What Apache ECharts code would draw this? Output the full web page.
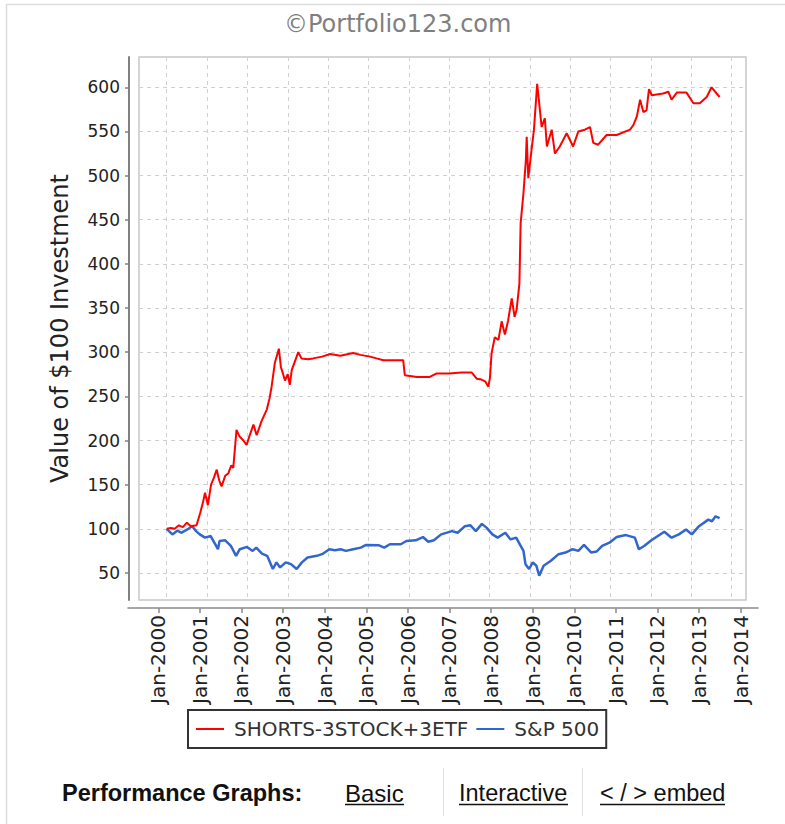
<!DOCTYPE html>
<html>
<head>
<meta charset="utf-8">
<script src="https://cdn.jsdelivr.net/npm/echarts@6/dist/echarts.min.js"></script>
<style>
  html, body { margin: 0; padding: 0; background: #ffffff; }
  #chart { width: 785px; height: 824px; }
</style>
</head>
<body>
<div id="chart"></div>
<script>
// ---- Data (fractional year, value of $100 investment) ----
const seriesNames = ['SHORTS-3STOCK+3ETF', 'S&P 500'];

const redYears = [2000.00,2000.10,2000.20,2000.30,2000.40,2000.50,2000.60,2000.74,2000.83,2000.90,2000.95,2001.02,2001.10,2001.17,2001.24,2001.30,2001.36,2001.45,2001.53,2001.60,2001.65,2001.73,2001.80,2001.90,2001.98,2002.05,2002.15,2002.23,2002.35,2002.48,2002.55,2002.60,2002.68,2002.78,2002.83,2002.88,2002.93,2003.00,2003.05,2003.10,2003.18,2003.26,2003.34,2003.50,2003.63,2003.85,2004.05,2004.30,2004.62,2004.80,2005.04,2005.20,2005.37,2005.60,2005.86,2005.90,2006.20,2006.52,2006.69,2007.00,2007.30,2007.56,2007.68,2007.80,2007.89,2007.97,2008.01,2008.05,2008.13,2008.22,2008.30,2008.38,2008.46,2008.55,2008.62,2008.67,2008.74,2008.77,2008.84,2008.90,2008.92,2008.96,2009.04,2009.10,2009.18,2009.23,2009.29,2009.37,2009.42,2009.54,2009.62,2009.74,2009.91,2010.07,2010.20,2010.36,2010.49,2010.57,2010.69,2010.90,2011.15,2011.48,2011.56,2011.65,2011.73,2011.81,2011.89,2011.95,2012.02,2012.30,2012.43,2012.51,2012.64,2012.88,2013.05,2013.21,2013.38,2013.50,2013.70];
const redValues = [100,101,100,104,102,107,103,104,118,130,141,127,150,158,167,155,148,160,163,172,169,212,205,200,195,205,218,206,222,235,248,261,288,304,283,276,268,275,263,280,290,300,293,292,293,295,298,296,299,297,295,293,291,291,291,274,272,272,276,276,277,277,270,269,267,261,271,299,317,314,335,320,336,361,340,348,378,446,480,518,544,497,529,552,604,582,555,565,533,552,525,533,548,533,550,552,555,537,535,546,546,552,557,567,586,572,574,598,591,593,595,586,594,594,582,582,589,600,589];

const blueYears = [2000.00,2000.14,2000.27,2000.36,2000.50,2000.63,2000.73,2000.82,2000.95,2001.09,2001.18,2001.27,2001.31,2001.45,2001.59,2001.72,2001.81,2001.99,2002.13,2002.22,2002.36,2002.49,2002.58,2002.63,2002.72,2002.81,2002.95,2003.08,2003.22,2003.35,2003.49,2003.72,2003.85,2004.03,2004.17,2004.31,2004.44,2004.62,2004.81,2004.94,2005.26,2005.39,2005.53,2005.80,2005.94,2006.17,2006.35,2006.48,2006.62,2006.80,2007.07,2007.21,2007.39,2007.52,2007.66,2007.81,2007.93,2008.07,2008.20,2008.39,2008.52,2008.66,2008.75,2008.84,2008.89,2008.98,2009.07,2009.16,2009.23,2009.34,2009.52,2009.71,2009.88,2010.06,2010.20,2010.34,2010.52,2010.65,2010.79,2010.97,2011.15,2011.38,2011.60,2011.70,2011.83,2012.01,2012.33,2012.51,2012.69,2012.87,2013.01,2013.19,2013.42,2013.51,2013.60,2013.70];
const blueValues = [100,93.7,98,95.5,99,103,97.4,93.7,90,91.8,84.3,76.9,86.2,87,80.6,69.4,76.9,79.5,75,78.7,72,69.4,60,54.5,62,56.3,62,60,54.5,62,67.5,69.4,71.3,76.9,75.7,76.9,75,76.9,78.7,81.7,81.3,78.7,82.5,82.5,86.2,87,90.7,85.4,87,93.7,97.4,95.5,103,104.1,97.4,105.6,101.1,93.7,90,95.5,88,90,82.5,75,60,54.5,62,58.2,47,58.2,63.8,71.3,73.1,76.9,75,81.7,73.1,74.3,80.6,84.3,90.7,92.9,90,76.9,80.6,87,96.6,90,93.7,99.3,93.7,103,110.4,108.6,114.2,112];

// ---- Axis ticks ----
const xTickYears = [2000,2001,2002,2003,2004,2005,2006,2007,2008,2009,2010,2011,2012,2013,2014];
const xTickLabels = ['Jan-2000','Jan-2001','Jan-2002','Jan-2003','Jan-2004','Jan-2005','Jan-2006','Jan-2007','Jan-2008','Jan-2009','Jan-2010','Jan-2011','Jan-2012','Jan-2013','Jan-2014'];
const yTickValues = [50,100,150,200,250,300,350,400,450,500,550,600];

const titleText = '\u00A9Portfolio123.com';
const yAxisTitle = 'Value of $100 Investment';
const footerLabel = 'Performance Graphs:';
const footerLinks = ['Basic', 'Interactive', '< / > embed'];

const zip = (xs, ys) => xs.map((x, i) => [x, ys[i]]);
const FONT = '"DejaVu Sans", sans-serif';
const FOOT = '"Liberation Sans", Arial, sans-serif';

const chart = echarts.init(document.getElementById('chart'), null, { renderer: 'svg' });

const option = {
  animation: false,
  backgroundColor: '#ffffff',
  title: {
    text: titleText,
    left: 279, top: 7,
    textStyle: { color: '#7f7f7f', fontSize: 24, fontWeight: 'normal', fontFamily: FONT }
  },
  legend: {
    data: seriesNames,
    left: 188, top: 710,
    orient: 'horizontal',
    padding: [9, 7, 9, 8],
    itemGap: 8,
    itemWidth: 28, itemHeight: 2,
    icon: 'rect',
    borderColor: '#333333', borderWidth: 2, borderRadius: 0,
    textStyle: { color: '#333333', fontSize: 20, fontFamily: FONT, padding: [0, 0, 0, 5] }
  },
  grid: [
    { left: 139, top: 57, width: 607, height: 543, show: true, borderColor: '#c8c8c8', borderWidth: 1.5, backgroundColor: '#ffffff', containLabel: false, outerBoundsMode: 'none' },
    { left: 128, top: 600, width: 630, height: 8, show: false, containLabel: false, outerBoundsMode: 'none' }
  ],
  xAxis: [
    {
      type: 'value', gridIndex: 0,
      min: 1999.314, max: 2014.354,
      axisLine: { show: false },
      axisTick: { show: false, customValues: xTickYears },
      axisLabel: { show: false, customValues: xTickYears },
      splitLine: { show: true, lineStyle: { color: '#d0d0d0', type: [4, 4], width: 1 } }
    },
    {
      type: 'value', gridIndex: 1, position: 'bottom',
      min: 1999.272, max: 2014.416,
      axisLine: { show: true, lineStyle: { color: '#8a8a8a', width: 1.5 } },
      axisTick: { show: true, length: 5, inside: false, customValues: xTickYears, lineStyle: { color: '#8a8a8a', width: 1.5 } },
      axisLabel: {
        show: true, rotate: 90, margin: 7,
        customValues: xTickYears,
        color: '#222222', fontSize: 20, fontFamily: FONT,
        formatter: v => xTickLabels[xTickYears.indexOf(Math.round(v))]
      },
      splitLine: { show: false }
    }
  ],
  yAxis: [
    {
      type: 'value', gridIndex: 0,
      min: 19.4, max: 634.3,
      offset: 10,
      name: yAxisTitle, nameLocation: 'middle', nameGap: 57,
      nameTextStyle: { color: '#222222', fontSize: 24, fontFamily: FONT },
      axisLine: { show: true, lineStyle: { color: '#808080', width: 2 } },
      axisTick: { show: true, length: 4, inside: false, customValues: yTickValues, lineStyle: { color: '#808080', width: 1.5 } },
      axisLabel: { show: true, customValues: yTickValues, margin: 9, color: '#222222', fontSize: 17, fontFamily: FONT },
      splitLine: { show: true, lineStyle: { color: '#d0d0d0', type: [4, 4], width: 1 } }
    },
    { type: 'value', gridIndex: 1, show: false, min: 0, max: 1 }
  ],
  series: [
    {
      name: seriesNames[0], type: 'line', xAxisIndex: 0, yAxisIndex: 0,
      data: zip(redYears, redValues), symbol: 'none', z: 3,
      color: '#ff0000',
      lineStyle: { color: '#ff0000', width: 2 }
    },
    {
      name: seriesNames[1], type: 'line', xAxisIndex: 0, yAxisIndex: 0,
      data: zip(blueYears, blueValues), symbol: 'none', z: 2,
      color: '#3366cc',
      lineStyle: { color: '#3366cc', width: 2.5 }
    }
  ],
  graphic: [
    { type: 'line', shape: { x1: 6.5, y1: 4, x2: 6.5, y2: 824 }, style: { stroke: '#dcdcdc', lineWidth: 1.5 }, silent: true },
    { type: 'line', shape: { x1: 6.5, y1: 4.5, x2: 785, y2: 4.5 }, style: { stroke: '#dcdcdc', lineWidth: 1.5 }, silent: true },
    { type: 'text', style: { text: footerLabel, x: 62, y: 793, verticalAlign: 'middle', fill: '#111111', font: 'bold 23.5px ' + FOOT }, silent: true },
    { type: 'text', style: { text: footerLinks[0], x: 345, y: 793, verticalAlign: 'middle', fill: '#111111', font: '24px ' + FOOT }, silent: true },
    { type: 'line', shape: { x1: 345, y1: 804.5, x2: 404, y2: 804.5 }, style: { stroke: '#111111', lineWidth: 1.5 }, silent: true },
    { type: 'line', shape: { x1: 443.5, y1: 768, x2: 443.5, y2: 816 }, style: { stroke: '#e0e0e0', lineWidth: 1 }, silent: true },
    { type: 'text', style: { text: footerLinks[1], x: 459, y: 793, verticalAlign: 'middle', fill: '#111111', font: '23.5px ' + FOOT }, silent: true },
    { type: 'line', shape: { x1: 459, y1: 804.5, x2: 568, y2: 804.5 }, style: { stroke: '#111111', lineWidth: 1.5 }, silent: true },
    { type: 'line', shape: { x1: 582.5, y1: 768, x2: 582.5, y2: 816 }, style: { stroke: '#e0e0e0', lineWidth: 1 }, silent: true },
    { type: 'text', style: { text: footerLinks[2], x: 600, y: 793, verticalAlign: 'middle', fill: '#111111', font: '23.5px ' + FOOT }, silent: true },
    { type: 'line', shape: { x1: 600, y1: 804.5, x2: 725, y2: 804.5 }, style: { stroke: '#111111', lineWidth: 1.5 }, silent: true }
  ]
};

chart.setOption(option);
</script>
</body>
</html>
